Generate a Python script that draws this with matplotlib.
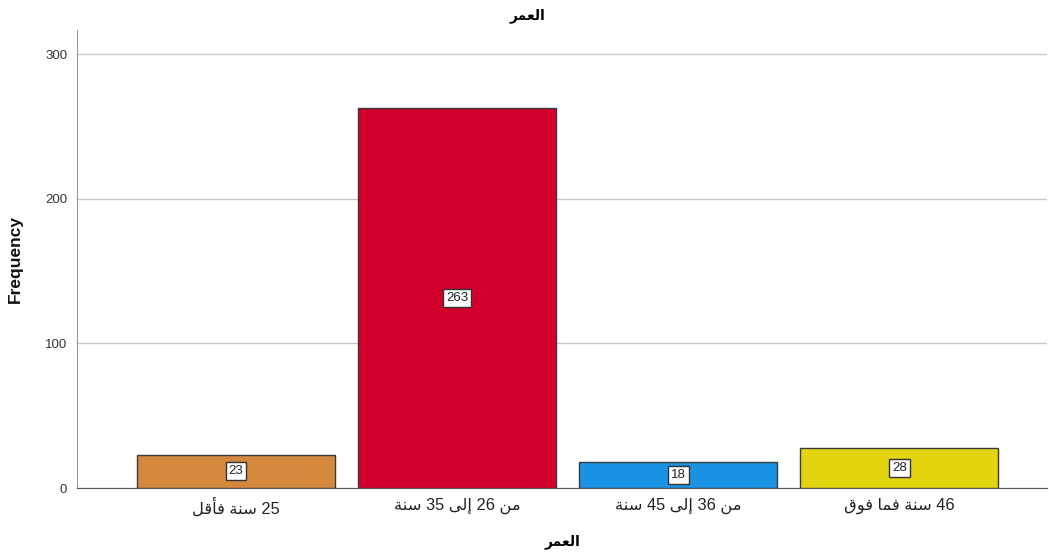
import matplotlib
matplotlib.use('Agg')
import matplotlib.pyplot as plt
import numpy as np

# data
title_text = 'العمر'
categories = ['25 سنة فأقل', 'من 26 إلى 35 سنة', 'من 36 إلى 45 سنة', '46 سنة فما فوق']
counts = [23, 263, 18, 28]
bar_colors = ['#d3883e', '#d3002e', '#1b93e5', '#e2d40f']

# matplotlib has no Arabic shaping, so map letters to presentation forms
# (isolated, final, initial, medial); None = letter does not join to the next one
FORMS = {
    'ا': ('\uFE8D', '\uFE8E', None, None),
    'أ': ('\uFE83', '\uFE84', None, None),
    'إ': ('\uFE87', '\uFE88', None, None),
    'ر': ('\uFEAD', '\uFEAE', None, None),
    'ة': ('\uFE93', '\uFE94', None, None),
    'ى': ('\uFEEF', '\uFEF0', None, None),
    'و': ('\uFEED', '\uFEEE', None, None),
    'ل': ('\uFEDD', '\uFEDE', '\uFEDF', '\uFEE0'),
    'ع': ('\uFEC9', '\uFECA', '\uFECB', '\uFECC'),
    'م': ('\uFEE1', '\uFEE2', '\uFEE3', '\uFEE4'),
    'س': ('\uFEB1', '\uFEB2', '\uFEB3', '\uFEB4'),
    'ن': ('\uFEE5', '\uFEE6', '\uFEE7', '\uFEE8'),
    'ف': ('\uFED1', '\uFED2', '\uFED3', '\uFED4'),
    'ق': ('\uFED5', '\uFED6', '\uFED7', '\uFED8'),
}


def shape_word(word):
    out = []
    for i, c in enumerate(word):
        if c not in FORMS:
            out.append(c)
            continue
        prev = word[i - 1] if i > 0 else None
        nxt = word[i + 1] if i + 1 < len(word) else None
        join_prev = prev in FORMS and FORMS[prev][2] is not None
        join_next = nxt in FORMS and FORMS[c][2] is not None
        iso, fin, ini, med = FORMS[c]
        if join_prev and join_next:
            out.append(med)
        elif join_prev:
            out.append(fin)
        elif join_next:
            out.append(ini)
        else:
            out.append(iso)
    s = ''.join(out)
    # digits stay left-to-right, letters are drawn right-to-left
    if any(ch in FORMS for ch in word):
        s = s[::-1]
    return s


def ar(text):
    return ' '.join(shape_word(w) for w in text.split(' ')[::-1])


# Liberation Sans for latin/digits (Arial look), DejaVu Sans has the Arabic forms
plt.rcParams['font.family'] = ['Liberation Sans', 'DejaVu Sans']

fig = plt.figure(figsize=(10.49, 5.59), dpi=100)
ax = fig.add_axes([0.0734, 0.127, 0.925, 0.819])

x = np.arange(len(categories))
bars = ax.bar(x, counts, width=0.896, color=bar_colors, edgecolor='#3a3a3a', linewidth=1.0, zorder=3)

for xi, v in zip(x, counts):
    ax.text(xi, v / 2, str(v), ha='center', va='center', fontsize=9.5, color='#222222', zorder=4,
            bbox=dict(boxstyle='square,pad=0.22', fc='white', ec='#333333', lw=1.0))

ax.set_xlim(-0.72, 3.67)
ax.set_ylim(0, 316.5)
ax.set_yticks([0, 100, 200, 300])
ax.yaxis.grid(True, color='#c8c8c8', linewidth=1.0, zorder=0)
ax.set_axisbelow(True)

ax.set_xticks(x)
ax.set_xticklabels([ar(c) for c in categories], fontsize=11.8, color='#222222')
ax.tick_params(axis='x', length=0, pad=7)
ax.tick_params(axis='y', length=0, pad=7, labelsize=9.5, labelcolor='#333333')

for side in ['top', 'right']:
    ax.spines[side].set_visible(False)
ax.spines['left'].set_color('#999999')
ax.spines['bottom'].set_color('#555555')

ax.set_ylabel('Frequency', fontsize=12.5, fontweight='bold', labelpad=16, color='#111111')
ax.set_xlabel(ar(title_text), fontsize=10, fontweight='bold', labelpad=12)
fig.text(0.503, 0.972, ar(title_text), ha='center', va='center', fontsize=10, fontweight='bold')

fig.savefig('out.png', dpi=100)
